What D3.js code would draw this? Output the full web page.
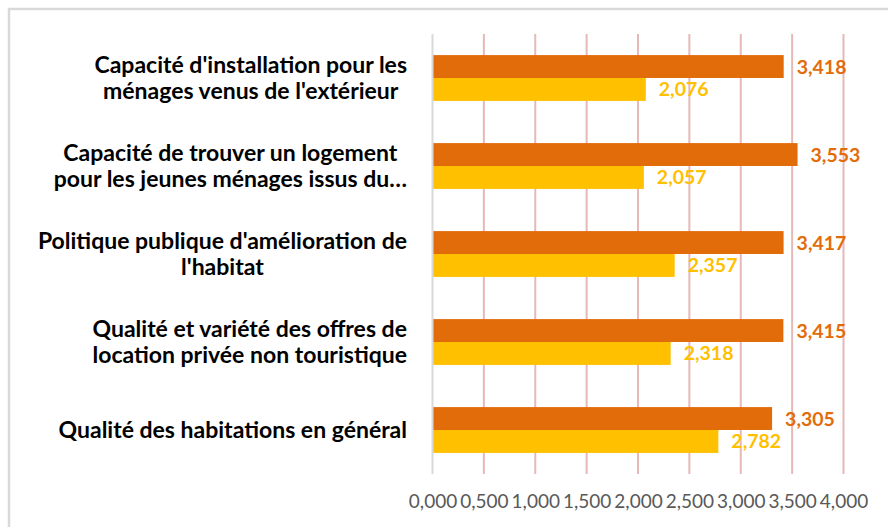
<!DOCTYPE html>
<html>
<head>
<meta charset="utf-8">
<script src="https://cdn.jsdelivr.net/npm/d3@7"></script>
<style>
  body { margin: 0; background: #fff; }
  svg { display: block; }
</style>
</head>
<body>
<div class="canvas"></div>
<script>
const width = 888, height = 527

// data (top to bottom)
const categories = [
    "Capacité d'installation pour les\nménages venus de l'extérieur",
    "Capacité de trouver un logement\npour les jeunes ménages issus du…",
    "Politique publique d'amélioration de\nl'habitat",
    "Qualité et variété des offres de\nlocation privée non touristique",
    "Qualité des habitations en général"
]
const seriesNames = ['s1', 's2']
const series1 = [3.418, 3.553, 3.417, 3.415, 3.305]
const series2 = [2.076, 2.057, 2.357, 2.318, 2.782]
const tickValues = [0, 0.5, 1, 1.5, 2, 2.5, 3, 3.5, 4]

const colors = { s1: '#e36c0a', s2: '#ffc000' }

const fr = d3.formatLocale({ decimal: ',', thousands: ' ', grouping: [3], currency: ['', '€'] })
const fmt = fr.format('.3f')

const svg = d3.select('.canvas').append('svg').attr('width', width).attr('height', height)

// outer frame
svg.append('rect')
    .attr('x', 9).attr('y', 9)
    .attr('width', 900).attr('height', 600)
    .attr('fill', '#fff')
    .attr('stroke', '#d9d9d9')
    .attr('stroke-width', 2.5)

const [mt, ml, plotRight, plotBottom] = [34, 432.5, 843.5, 474]

const x = d3.scaleLinear().domain([0, 4]).range([ml, plotRight])
const y = d3.scaleBand().domain(categories).range([mt, plotBottom])
const ySub = d3.scaleBand().domain(seriesNames).range([0, y.bandwidth()])
    .paddingInner(0).paddingOuter(0.92)

// gridlines
svg.append('g').selectAll('line')
    .data(tickValues.filter(d => d > 0))
    .enter().append('line')
    .attr('x1', d => x(d)).attr('x2', d => x(d))
    .attr('y1', mt).attr('y2', plotBottom)
    .attr('stroke', '#e6b9b8')
    .attr('stroke-width', 2)

// value axis labels
const xAxis = d3.axisBottom(x).tickValues(tickValues).tickFormat(fmt).tickSize(0).tickPadding(0)
const xAxisG = svg.append('g').attr('transform', `translate(0, ${plotBottom})`).call(xAxis)
xAxisG.select('.domain').remove()
xAxisG.selectAll('text')
    .attr('dy', null)
    .attr('y', 34)
    .attr('fill', '#595959')
    .style('font-family', 'Lato, "Open Sans", sans-serif')
    .style('font-size', '19px')

// bars
const rows = categories.map((c, i) => ({ cat: c, s1: series1[i], s2: series2[i] }))

const groups = svg.append('g').selectAll('g')
    .data(rows)
    .enter().append('g')
    .attr('transform', d => `translate(0, ${y(d.cat)})`)

groups.selectAll('rect')
    .data(d => seriesNames.map(k => ({ key: k, value: d[k] })))
    .enter().append('rect')
    .attr('x', x(0))
    .attr('y', d => ySub(d.key))
    .attr('width', d => x(d.value) - x(0))
    .attr('height', ySub.bandwidth())
    .attr('fill', d => colors[d.key])

groups.selectAll('text')
    .data(d => seriesNames.map(k => ({ key: k, value: d[k] })))
    .enter().append('text')
    .attr('x', d => x(d.value) + 13)
    .attr('y', d => ySub(d.key) + ySub.bandwidth() / 2 + 7)
    .text(d => fmt(d.value))
    .attr('fill', d => colors[d.key])
    .style('font-family', 'Lato, "Open Sans", sans-serif')
    .style('font-weight', 'bold')
    .style('font-size', '19.5px')

// vertical axis line at 0
svg.append('line')
    .attr('x1', x(0)).attr('x2', x(0))
    .attr('y1', mt).attr('y2', plotBottom)
    .attr('stroke', '#d9d9d9')
    .attr('stroke-width', 2)

// category labels: centred lines, block right-aligned
const labelRight = 407
const lineH = 26
categories.forEach(c => {
    const lines = c.split('\n')
    const g = svg.append('g')
    const cy = y(c) + y.bandwidth() / 2
    const t = g.selectAll('text').data(lines).enter().append('text')
        .text(d => d)
        .attr('fill', '#000')
        .attr('text-anchor', 'middle')
        .style('font-family', 'Lato, "Open Sans", sans-serif')
        .style('font-weight', 'bold')
        .style('font-size', '23px')
        .attr('y', (d, i) => cy + 8 + (i - (lines.length - 1) / 2) * lineH)
    let maxW = 0
    t.each(function () { maxW = Math.max(maxW, this.getComputedTextLength()) })
    t.attr('x', labelRight - maxW / 2)
})
</script>
</body>
</html>
